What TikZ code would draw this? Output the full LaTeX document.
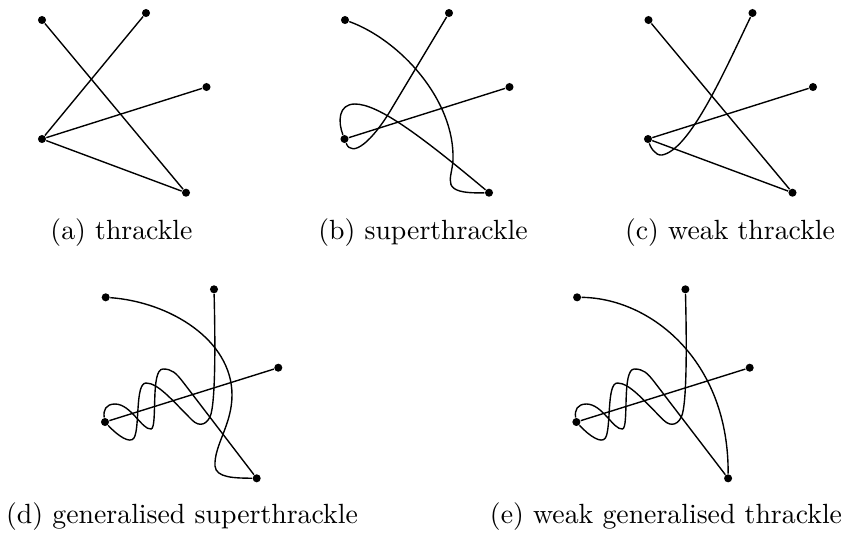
\documentclass[tikz,border=0pt]{standalone}
\begin{document}
\begin{tikzpicture}[x=0.36pt,y=-0.36pt,
  dot/.style={circle,fill,inner sep=0pt,minimum size=2.9pt},
  edge/.style={line width=0.5pt},
  subcap/.style={anchor=base,inner sep=0pt}]
\useasboundingbox (0,0) rectangle (851,539);
% (a) thrackle
\begin{scope}
  \node[dot] (aA) at (42,20) {};
  \node[dot] (aB) at (146,13) {};
  \node[dot] (aC) at (206.5,87) {};
  \node[dot] (aD) at (42,139) {};
  \node[dot] (aE) at (186,192.7) {};
  \draw[edge] (aA) -- (aE);
  \draw[edge] (aB) -- (aD);
  \draw[edge] (aC) -- (aD);
  \draw[edge] (aD) -- (aE);
\end{scope}
% (b) superthrackle
\begin{scope}[shift={(303,0)}]
  \node[dot] (bA) at (42,20) {};
  \node[dot] (bB) at (146,13) {};
  \node[dot] (bC) at (206.5,87) {};
  \node[dot] (bD) at (41.5,139) {};
  \node[dot] (bE) at (186,192.7) {};
  \draw[edge] (bA) .. controls (97,40) and (152,100) .. (150,160)
              .. controls (149,180) and (135,194) .. (bE);
  \draw[edge] (bB) -- (89,108) .. controls (69,142) and (49,158) .. (bD);
  \draw[edge] (bC) -- (bD);
  \draw[edge] (bD) .. controls (35,122) and (35,104) .. (52,104)
              .. controls (75,104) and (117,135) .. (bE);
\end{scope}
% (c) weak thrackle
\begin{scope}[shift={(606.5,0)}]
  \node[dot] (cA) at (42,20) {};
  \node[dot] (cB) at (146,13) {};
  \node[dot] (cC) at (206.5,87) {};
  \node[dot] (cD) at (41.5,139) {};
  \node[dot] (cE) at (186,192.7) {};
  \draw[edge] (cA) -- (cE);
  \draw[edge] (cB) .. controls (118.5,70) and (83.5,150) .. (55.5,155)
              .. controls (48.5,156) and (43.5,146) .. (cD);
  \draw[edge] (cC) -- (cD);
  \draw[edge] (cD) -- (cE);
\end{scope}
% (d) generalised superthrackle
\begin{scope}
  \node[dot] (dA) at (105.7,297.3) {};
  \node[dot] (dB) at (214,289.3) {};
  \node[dot] (dC) at (278.3,367.7) {};
  \node[dot] (dD) at (105,422) {};
  \node[dot] (dE) at (256.7,478.3) {};
  \draw[edge] (dA) .. controls (170,302) and (232,340) .. (232,395)
              .. controls (232,425) and (214,445) .. (215,466)
              .. controls (216,478) and (235,478) .. (dE);
  \draw[edge] (dB) .. controls (215,330) and (216,395) .. (211,414)
              .. controls (208,424) and (200,428) .. (192,420)
              .. controls (172,400) and (158,383) .. (146,383)
              .. controls (135,383) and (140,428) .. (134,438)
              .. controls (130,444) and (118,436) .. (dD);
  \draw[edge] (dC) -- (dD);
  \draw[edge] (dD) .. controls (103,410) and (106,404) .. (115,404)
              .. controls (131,404) and (142,430) .. (151,429)
              .. controls (158,428) and (150,369) .. (163,369)
              .. controls (172,369) and (176,373) .. (183,382) -- (dE);
\end{scope}
% (e) weak generalised thrackle
\begin{scope}[shift={(471.4,0)}]
  \node[dot] (eA) at (105.7,297.3) {};
  \node[dot] (eB) at (214,289.3) {};
  \node[dot] (eC) at (278.3,367.7) {};
  \node[dot] (eD) at (105,422) {};
  \node[dot] (eE) at (256.7,478.3) {};
  \draw[edge] (eA) .. controls (178.6,298) and (257.6,360) .. (eE);
  \draw[edge] (eB) .. controls (215,330) and (216,395) .. (211,414)
              .. controls (208,424) and (200,428) .. (192,420)
              .. controls (172,400) and (158,383) .. (146,383)
              .. controls (135,383) and (140,428) .. (134,438)
              .. controls (130,444) and (118,436) .. (eD);
  \draw[edge] (eC) -- (eD);
  \draw[edge] (eD) .. controls (103,410) and (106,404) .. (115,404)
              .. controls (131,404) and (142,430) .. (151,429)
              .. controls (158,428) and (150,369) .. (163,369)
              .. controls (172,369) and (176,373) .. (183,382) -- (eE);
\end{scope}
% captions
\node[subcap] (capa) at (121.5,239) {(a) thrackle};
\node[subcap] (capb) at (423,239) {(b) superthrackle};
\node[subcap] (capc) at (730,239) {(c) weak thrackle};
\node[subcap] (capd) at (182,523) {(d) generalised superthrackle};
\node[subcap] (cape) at (666,523) {(e) weak generalised thrackle};
\end{tikzpicture}
\end{document}
